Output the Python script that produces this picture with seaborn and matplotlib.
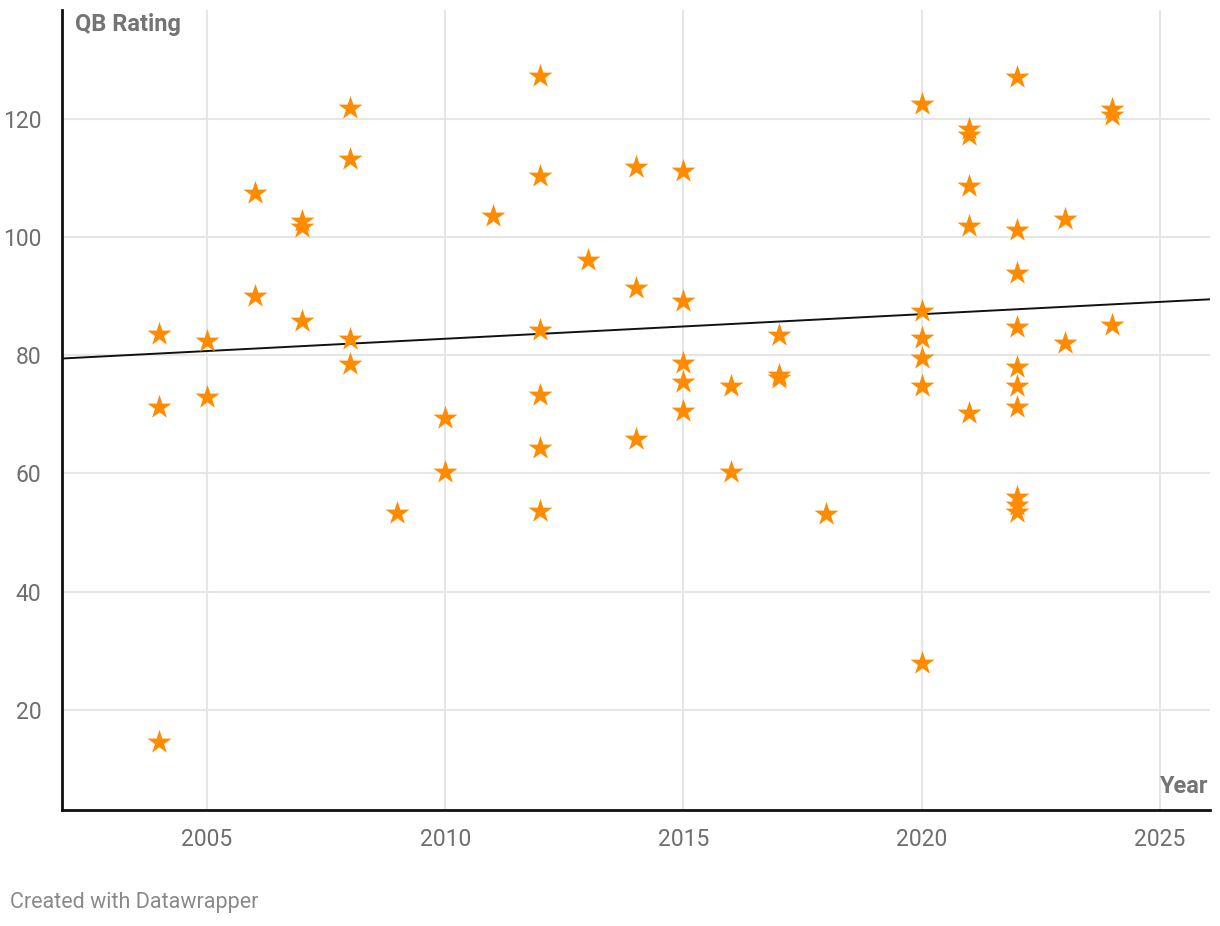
import pandas as pd
import numpy as np
import matplotlib.pyplot as plt
import seaborn as sns

# QB ratings per season
years = [2004, 2004, 2004,
         2005, 2005,
         2006, 2006,
         2007, 2007, 2007,
         2008, 2008, 2008, 2008,
         2009,
         2010, 2010,
         2011,
         2012, 2012, 2012, 2012, 2012, 2012,
         2013,
         2014, 2014, 2014,
         2015, 2015, 2015, 2015, 2015,
         2016, 2016,
         2017, 2017, 2017,
         2018,
         2020, 2020, 2020, 2020, 2020, 2020,
         2021, 2021, 2021, 2021, 2021,
         2022, 2022, 2022, 2022, 2022, 2022, 2022, 2022, 2022, 2022,
         2023, 2023,
         2024, 2024, 2024]
ratings = [83.6, 71.3, 14.6,
           82.4, 73.0,
           107.5, 90.0,
           102.7, 101.7, 85.8,
           121.9, 113.2, 82.8, 78.5,
           53.3,
           69.4, 60.3,
           103.6,
           127.3, 110.4, 84.3, 73.3, 64.3, 53.7,
           96.1,
           111.9, 91.4, 65.9,
           111.2, 89.2, 78.7, 75.5, 70.6,
           74.8, 60.3,
           83.5, 76.7, 76.2,
           53.2,
           122.5, 87.5, 82.9, 79.6, 74.8, 28.0,
           118.3, 117.3, 108.7, 101.9, 70.3,
           127.1, 101.2, 93.9, 84.8, 78.0, 74.8, 71.3, 56.0, 54.7, 53.5,
           103.1, 82.1,
           121.7, 120.7, 85.1]

x_ticks = [2005, 2010, 2015, 2020, 2025]
y_ticks = [20, 40, 60, 80, 100, 120]

df = pd.DataFrame({'Year': years, 'QB Rating': ratings})

sns.set_theme(style='white')
plt.rcParams['font.family'] = ['Roboto', 'DejaVu Sans']

fig = plt.figure(figsize=(12.2, 9.26), dpi=100)
ax = fig.add_axes([0.0508, 0.1253, 0.941, 0.8639])
ax.set_xlim(2001.96, 2026.05)
ax.set_ylim(3.08, 138.4)

ax.set_xticks(x_ticks)
ax.set_yticks(y_ticks)
ax.grid(True, color='#e6e6e6', linewidth=1.5)
ax.set_axisbelow(True)

# trend line across the full axis
sns.regplot(x='Year', y='QB Rating', data=df, scatter=False, ci=None,
            truncate=False, color='#111111', line_kws={'linewidth': 1.4}, ax=ax)

sns.scatterplot(x='Year', y='QB Rating', data=df, marker='*', s=330,
                color='#ff8c00', linewidth=0, zorder=3, ax=ax)

sns.despine(ax=ax)
for side in ['left', 'bottom']:
    ax.spines[side].set_color('#111111')
    ax.spines[side].set_linewidth(2)

ax.tick_params(axis='both', length=0, labelsize=16.5, labelcolor='#6e6e6e')
ax.tick_params(axis='x', pad=13)
ax.tick_params(axis='y', pad=15)
ax.set_xlabel('')
ax.set_ylabel('')

ax.text(0.011, 0.996, 'QB Rating', transform=ax.transAxes, ha='left', va='top',
        fontsize=17, fontweight='bold', color='#747474')
ax.text(0.998, 0.015, 'Year', transform=ax.transAxes, ha='right', va='bottom',
        fontsize=17, fontweight='bold', color='#747474')

fig.text(0.008, 0.025, 'Created with Datawrapper', ha='left', va='center',
         fontsize=15.5, color='#8a8a8a')

plt.savefig('out.png', dpi=100)
